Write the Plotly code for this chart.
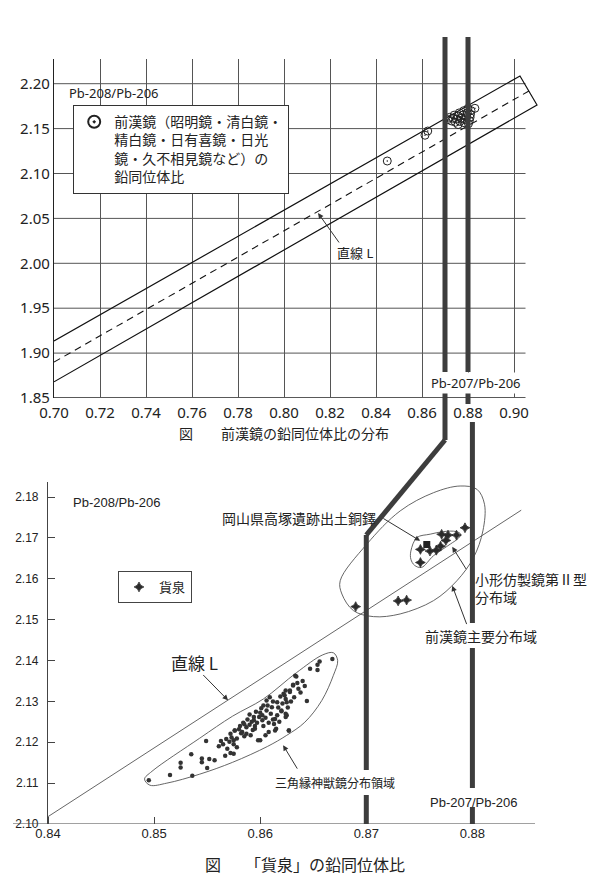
import plotly.graph_objects as go

W, H = 600, 888

# ---------------- top chart data ----------------
TOP_X_RANGE = [0.70, 0.912]
TOP_Y_RANGE = [1.85, 2.2275]
TOP_X_END = 0.905
TOP_XTICKS = [0.70, 0.72, 0.74, 0.76, 0.78, 0.80, 0.82, 0.84, 0.86, 0.88, 0.90]
TOP_YTICKS = [1.85, 1.90, 1.95, 2.00, 2.05, 2.10, 2.15, 2.20]

BAND_X = [0.70, 0.9026, 0.910, 0.70]
BAND_Y = [1.9135, 2.2086, 2.1763, 1.868]
LINE_L_TOP_X = [0.70, 0.9065]
LINE_L_TOP_Y = [1.890, 2.1919]

MIRROR_X = [0.8449, 0.8613, 0.8625,
            0.8712, 0.8720, 0.8728, 0.8735, 0.8740, 0.8745, 0.8750, 0.8757, 0.8757,
            0.8762, 0.8765, 0.8770, 0.8777, 0.8782, 0.8783, 0.8788, 0.8793, 0.8797,
            0.8800, 0.8802, 0.8806, 0.8809, 0.8811, 0.8813, 0.8830]
MIRROR_Y = [2.1139, 2.1426, 2.1473,
            2.1600, 2.1625, 2.1585, 2.1615, 2.1650, 2.1570, 2.1605, 2.1640, 2.1545,
            2.1675, 2.1580, 2.1615, 2.1650, 2.1700, 2.1565, 2.1600, 2.1635, 2.1675,
            2.1725, 2.1555, 2.1590, 2.1625, 2.1660, 2.1700, 2.1726]

# ---------------- bottom chart data ----------------
BOT_X_RANGE = [0.8367, 0.8859]
BOT_Y_RANGE = [2.10, 2.1837]
BOT_XTICKS = [0.84, 0.85, 0.86, 0.87, 0.88]
BOT_YTICKS = [2.10, 2.11, 2.12, 2.13, 2.14, 2.15, 2.16, 2.17, 2.18]

LINE_L_BOT_X = [0.84, 0.8846]
LINE_L_BOT_Y = [2.1018, 2.1768]

KASEN_X = [0.8793, 0.8771, 0.8777, 0.8785, 0.8775, 0.8770, 0.8766, 0.8760,
           0.8751, 0.8751, 0.8730, 0.8738, 0.8690]
KASEN_Y = [2.1725, 2.1709, 2.1707, 2.1707, 2.1694, 2.1680, 2.1670, 2.1668,
           2.1672, 2.1640, 2.1546, 2.1548, 2.1532]

DOTAKU_X = [0.8757]
DOTAKU_Y = [2.1684]

SANKAKU_X = [0.8495, 0.8515, 0.8525, 0.8525, 0.8536, 0.8535, 0.8545, 0.8545, 0.8550,
             0.8552, 0.8557, 0.8549, 0.8561, 0.8567, 0.8572, 0.8575, 0.8569,
             0.8565, 0.8571, 0.8575, 0.8572, 0.8578, 0.8576, 0.8583, 0.8581, 0.8587,
             0.8591, 0.8592, 0.8594, 0.8595, 0.8598, 0.8602, 0.8606, 0.8608, 0.8611,
             0.8612, 0.8616, 0.8616, 0.8620, 0.8624, 0.8624, 0.8627, 0.8628, 0.8631,
             0.8633, 0.8625, 0.8615,
             0.8668, 0.8656, 0.8654, 0.8647, 0.8654, 0.8634, 0.8631, 0.8636, 0.8628,
             0.8624, 0.8622, 0.8644, 0.8625, 0.8619, 0.8609, 0.8606, 0.8603, 0.8620,
             0.8624, 0.8614, 0.8627, 0.8614, 0.8602, 0.8594, 0.8584, 0.8595, 0.8587,
             0.8605, 0.8600, 0.8576, 0.8575, 0.8578,
             0.8580, 0.8585, 0.8588, 0.8590, 0.8593, 0.8597, 0.8599, 0.8600, 0.8603,
             0.8605, 0.8607, 0.8610, 0.8612, 0.8613, 0.8617, 0.8618, 0.8621, 0.8623,
             0.8626, 0.8629, 0.8632, 0.8635, 0.8638, 0.8640, 0.8642, 0.8585, 0.8582,
             0.8590, 0.8596, 0.8608, 0.8601, 0.8573, 0.8568, 0.8563]
SANKAKU_Y = [2.1107, 2.1120, 2.1150, 2.1138, 2.1118, 2.1171, 2.1160, 2.1151, 2.1137,
             2.1159, 2.1156, 2.1203, 2.1190, 2.1167, 2.1174, 2.1172, 2.1184,
             2.1195, 2.1201, 2.1195, 2.1221, 2.1209, 2.1229, 2.1225, 2.1240, 2.1237,
             2.1217, 2.1250, 2.1262, 2.1240, 2.1205, 2.1266, 2.1278, 2.1225, 2.1286,
             2.1256, 2.1298, 2.1266, 2.1278, 2.1270, 2.1306, 2.1229, 2.1323, 2.1339,
             2.1363, 2.1266, 2.1233,
             2.1404, 2.1398, 2.1390, 2.1380, 2.1377, 2.1361, 2.1341, 2.1331, 2.1327,
             2.1327, 2.1319, 2.1301, 2.1298, 2.1312, 2.1310, 2.1302, 2.1290, 2.1276,
             2.1262, 2.1257, 2.1229, 2.1229, 2.1254, 2.1254, 2.1248, 2.1233, 2.1221,
             2.1217, 2.1205, 2.1229, 2.1205, 2.1188,
             2.1232, 2.1244, 2.1256, 2.1243, 2.1230, 2.1248, 2.1262, 2.1272, 2.1240,
             2.1260, 2.1290, 2.1270, 2.1300, 2.1245, 2.1285, 2.1250, 2.1295, 2.1315,
             2.1285, 2.1300, 2.1310, 2.1345, 2.1322, 2.1350, 2.1338, 2.1215, 2.1222,
             2.1268, 2.1275, 2.1248, 2.1283, 2.1212, 2.1208, 2.1203]

# region outlines
SANKAKU_REGION_X = [0.8491, 0.8498, 0.8543, 0.8574, 0.8603, 0.8634, 0.8659, 0.8669,
                    0.8673, 0.8669, 0.8658, 0.8642, 0.8625, 0.8607, 0.8574, 0.8543,
                    0.8512, 0.8496, 0.8491]
SANKAKU_REGION_Y = [2.1110, 2.1129, 2.1210, 2.1264, 2.1306, 2.1370, 2.1414, 2.1419,
                    2.1400, 2.1364, 2.1302, 2.1249, 2.1217, 2.1190, 2.1151, 2.1122,
                    2.1100, 2.1095, 2.1110]
ZENKAN_REGION_X = [0.86754, 0.87005, 0.87319, 0.87633, 0.87885, 0.88043, 0.88114,
                   0.88099, 0.88011, 0.87854, 0.87633, 0.87319, 0.87068, 0.86879,
                   0.86770, 0.86754]
ZENKAN_REGION_Y = [2.15954, 2.16849, 2.17662, 2.18108, 2.18272, 2.18191, 2.17825,
                   2.17174, 2.16522, 2.15954, 2.15466, 2.15141, 2.15075, 2.15222,
                   2.15629, 2.15954]
KOGATA_REGION_X = [0.87420, 0.87477, 0.87602, 0.87728, 0.87847, 0.87890, 0.87869,
                   0.87791, 0.87633, 0.87520, 0.87455, 0.87420, 0.87420]
KOGATA_REGION_Y = [2.16680, 2.17010, 2.17093, 2.17157, 2.17157, 2.17093, 2.16995,
                   2.16849, 2.16564, 2.16279, 2.16330, 2.16480, 2.16680]

# ---------------- layout geometry (pixels of the page) ----------------
PAGE_OFFSET = 8  # default body margin of the page that hosts the figure


def pxp(px):
    return (px - PAGE_OFFSET) / W


def pyp(py):
    return 1 - (py - PAGE_OFFSET) / H


TOP_DOM_X = [pxp(54), pxp(541.6)]
TOP_DOM_Y = [pyp(398), pyp(59)]
BOT_DOM_X = [pxp(13), pxp(535)]
BOT_DOM_Y = [pyp(824), pyp(482)]

JP = "Noto Sans CJK JP"
TOPFONT = "Noto Sans, " + JP
BOTFONT = "Liberation Sans, " + JP
INK = "#222222"
GRID = "#555555"
THICK = "#3d3d3d"

fig = go.Figure()

# top chart traces
fig.add_trace(go.Scatter(x=BAND_X, y=BAND_Y, mode="lines", xaxis="x", yaxis="y",
                         line=dict(color="#111", width=1.2), showlegend=False, hoverinfo="skip"))
fig.add_trace(go.Scatter(x=LINE_L_TOP_X, y=LINE_L_TOP_Y, mode="lines", xaxis="x", yaxis="y",
                         line=dict(color="#111", width=1.1, dash="7px,5px"),
                         showlegend=False, hoverinfo="skip"))
fig.add_trace(go.Scatter(
    x=MIRROR_X, y=MIRROR_Y, mode="markers", xaxis="x", yaxis="y",
    name="前漢鏡（昭明鏡・清白鏡・<br>精白鏡・日有喜鏡・日光<br>鏡・久不相見鏡など）の<br>鉛同位体比",
    marker=dict(symbol="circle-open-dot", size=8, color="#222", line=dict(width=1)),
    legend="legend"))

# bottom chart traces
fig.add_trace(go.Scatter(x=LINE_L_BOT_X, y=LINE_L_BOT_Y, mode="lines", xaxis="x2", yaxis="y2",
                         line=dict(color="#555", width=0.9), showlegend=False, hoverinfo="skip"))
for rx, ry in [(SANKAKU_REGION_X, SANKAKU_REGION_Y), (ZENKAN_REGION_X, ZENKAN_REGION_Y),
               (KOGATA_REGION_X, KOGATA_REGION_Y)]:
    fig.add_trace(go.Scatter(x=rx, y=ry, mode="lines", xaxis="x2", yaxis="y2",
                             line=dict(color="#555", width=0.9, shape="spline", smoothing=1.0),
                             showlegend=False, hoverinfo="skip"))
fig.add_trace(go.Scatter(x=SANKAKU_X, y=SANKAKU_Y, mode="markers", xaxis="x2", yaxis="y2",
                         marker=dict(symbol="circle", size=4.5, color="#333"),
                         showlegend=False))
fig.add_trace(go.Scatter(x=DOTAKU_X, y=DOTAKU_Y, mode="markers", xaxis="x2", yaxis="y2",
                         marker=dict(symbol="square", size=7, color="#222"),
                         showlegend=False))
fig.add_trace(go.Scatter(x=KASEN_X, y=KASEN_Y, mode="markers", xaxis="x2", yaxis="y2",
                         name="貨泉",
                         marker=dict(symbol="star-diamond", size=7, color="#2a2a2a",
                                     line=dict(width=0.8, color="#2a2a2a")),
                         legend="legend2"))

shapes = []
# top: horizontal grid lines and bottom axis line
for yv in TOP_YTICKS:
    is_axis = yv == TOP_Y_RANGE[0]
    shapes.append(dict(type="line", xref="x", yref="y", x0=TOP_X_RANGE[0], x1=TOP_X_END,
                       y0=yv, y1=yv, line=dict(color="#222" if is_axis else GRID,
                                               width=1.3 if is_axis else 1),
                       layer="below"))

# bottom: axis line (extends left of y-axis)
shapes.append(dict(type="line", xref="x2", yref="y2", x0=BOT_X_RANGE[0], x1=BOT_X_RANGE[1],
                   y0=BOT_Y_RANGE[0], y1=BOT_Y_RANGE[0], line=dict(color="#444", width=1.1)))

# thick vertical marker lines at 0.87 and 0.88
THICK_W = 5


def top_x_from_bottom(xb):
    p = BOT_DOM_X[0] + (xb - BOT_X_RANGE[0]) / (BOT_X_RANGE[1] - BOT_X_RANGE[0]) * (BOT_DOM_X[1] - BOT_DOM_X[0])
    return TOP_X_RANGE[0] + (p - TOP_DOM_X[0]) / (TOP_DOM_X[1] - TOP_DOM_X[0]) * (TOP_X_RANGE[1] - TOP_X_RANGE[0])


def vseg(xref, xv, py0, py1):
    shapes.append(dict(type="line", xref=xref, yref="paper", x0=xv, x1=xv,
                       y0=pyp(py0), y1=pyp(py1), line=dict(color=THICK, width=THICK_W),
                       layer="above"))


vseg("x", 0.87, 37, 372)
vseg("x", 0.87, 388, 440)
shapes.append(dict(type="line", xref="x", yref="paper", x0=0.87, x1=top_x_from_bottom(0.87),
                   y0=pyp(440), y1=pyp(535), line=dict(color=THICK, width=THICK_W), layer="above"))
vseg("x2", 0.87, 535, 770)
vseg("x2", 0.87, 795, 824)

vseg("x", 0.88, 37, 372)
vseg("x", 0.88, 390, 404)
vseg("x2", 0.88, 422, 623)
vseg("x2", 0.88, 648, 788)
vseg("x2", 0.88, 807, 824)

ann = []


def text(xref, yref, x, y, s, size, family, xanchor="left", yanchor="middle", bg=None, align="left"):
    d = dict(xref=xref, yref=yref, x=x, y=y, text=s, showarrow=False,
             font=dict(size=size, family=family, color=INK), xanchor=xanchor, yanchor=yanchor,
             align=align)
    if bg:
        d["bgcolor"] = bg
    ann.append(d)


def arrow(xref, yref, x_tail, y_tail, x_head, y_head):
    ann.append(dict(xref=xref, yref=yref, axref=xref, ayref=yref, x=x_head, y=y_head,
                    ax=x_tail, ay=y_tail, text="", showarrow=True, arrowhead=2,
                    arrowsize=1.1, arrowwidth=1, arrowcolor="#333"))


# top chart labels
text("x", "y", 0.7057, 2.1896, "Pb-208/Pb-206", 13, TOPFONT)
text("x", "y", 0.8836, 1.8667, "Pb-207/Pb-206", 13, TOPFONT, xanchor="center", bg="white")
text("x", "y", 0.8309, 2.0115, "直線 L", 13, TOPFONT, xanchor="center")
arrow("x", "y", 0.8244, 2.0215, 0.8148, 2.0560)
text("paper", "paper", pxp(177), pyp(433), "図　　前漢鏡の鉛同位体比の分布", 14, JP)

# bottom chart labels
text("x2", "y2", 0.84217, 2.17857, "Pb-208/Pb-206", 13, BOTFONT)
text("x2", "y2", 0.87583, 2.10537, "Pb-207/Pb-206", 13, BOTFONT)
text("x2", "y2", 0.85622, 2.17491, "岡山県高塚遺跡出土銅鐸", 14, JP)
arrow("x2", "y2", 0.87147, 2.17499, 0.87508, 2.16930)
text("x2", "y2", 0.88008, 2.16290, "小形仿製鏡第Ⅱ型<br>分布域", 14, JP, yanchor="top")
arrow("x2", "y2", 0.87951, 2.16198, 0.87810, 2.16783)
text("x2", "y2", 0.87536, 2.14612, "前漢鏡主要分布域", 14, JP)
arrow("x2", "y2", 0.87951, 2.14856, 0.87810, 2.15832)
text("x2", "y2", 0.85377, 2.13953, "直線 L", 17, JP, xanchor="center")
arrow("x2", "y2", 0.85449, 2.13684, 0.85697, 2.13026)
text("x2", "y2", 0.86122, 2.11025, "三角縁神獣鏡分布領域", 12, JP)
arrow("x2", "y2", 0.86358, 2.11318, 0.86216, 2.11928)
text("paper", "paper", pxp(203), pyp(864), "図　　「貨泉」の鉛同位体比", 16, JP)

fig.update_layout(
    width=W, height=H, margin=dict(l=0, r=0, t=0, b=0, autoexpand=False),
    paper_bgcolor="white", plot_bgcolor="white",
    shapes=shapes, annotations=ann,
    xaxis=dict(domain=TOP_DOM_X, range=TOP_X_RANGE, anchor="y", tickvals=TOP_XTICKS,
               tickformat=".2f", showgrid=True, gridcolor=GRID, gridwidth=1,
               showline=False, zeroline=False, ticks="", automargin=False,
               ticklabelstandoff=4,
               tickfont=dict(family=TOPFONT, size=15, color=INK)),
    yaxis=dict(domain=TOP_DOM_Y, range=TOP_Y_RANGE, anchor="x", tickvals=TOP_YTICKS,
               tickformat=".2f", showgrid=False, showline=True, linecolor="#222",
               linewidth=1.3, zeroline=False, ticks="", automargin=False,
               tickfont=dict(family=TOPFONT, size=15, color=INK)),
    xaxis2=dict(domain=BOT_DOM_X, range=BOT_X_RANGE, anchor="y2", tickvals=BOT_XTICKS,
                tickformat=".2f", showgrid=False, showline=False, zeroline=False,
                ticks="inside", ticklen=7, tickcolor="#444", automargin=False,
                tickfont=dict(family=BOTFONT, size=13, color=INK)),
    yaxis2=dict(domain=BOT_DOM_Y, range=BOT_Y_RANGE, anchor="free", position=pxp(47),
                tickvals=BOT_YTICKS, tickformat=".2f", showgrid=False, showline=True,
                linecolor="#444", linewidth=1.1, zeroline=False, automargin=False,
                ticks="inside", ticklen=7, tickcolor="#444", ticklabelstandoff=6,
                tickfont=dict(family=BOTFONT, size=12, color=INK)),
    legend=dict(x=pxp(73), y=pyp(105), xanchor="left", yanchor="top",
                bgcolor="white", bordercolor="#333", borderwidth=1.2, itemsizing="constant",
                font=dict(family=JP, size=14, color=INK), valign="top"),
    legend2=dict(x=pxp(118), y=pyp(571), xanchor="left", yanchor="top",
                 bgcolor="white", bordercolor="#444", borderwidth=1,
                 font=dict(family=JP, size=13, color=INK)),
)

fig.write_html("out.html")
